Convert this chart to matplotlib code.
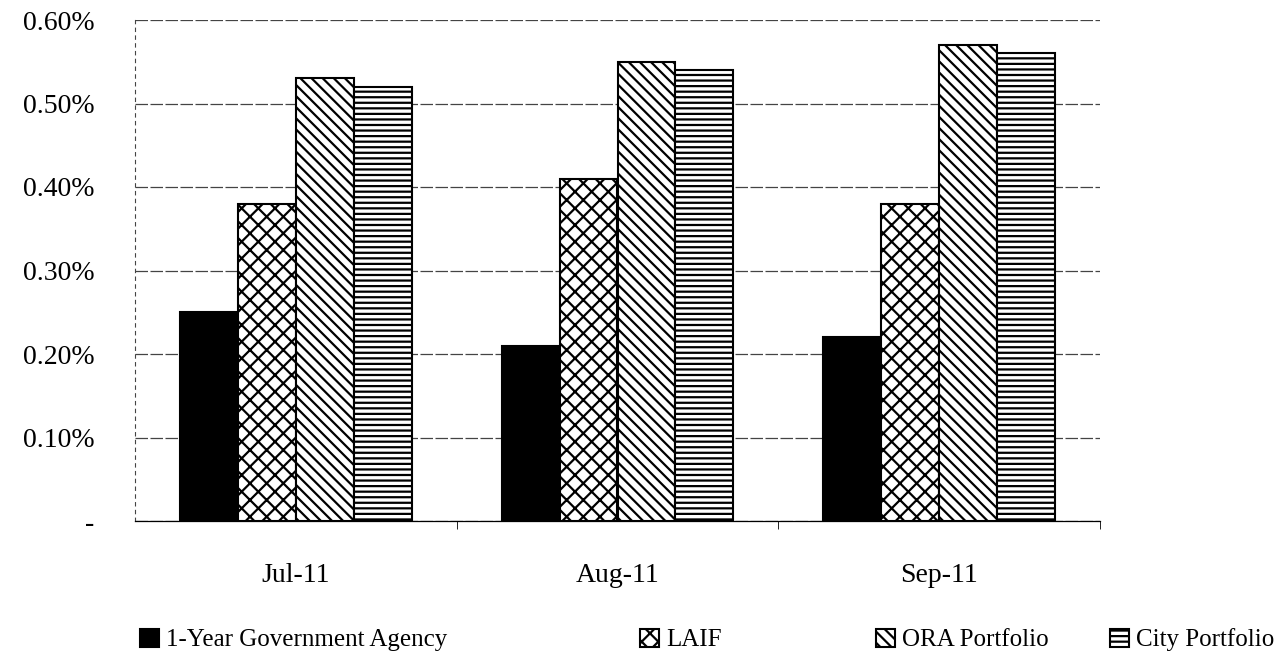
import numpy as np
import matplotlib
matplotlib.use("Agg")
from matplotlib import pyplot as plt
from matplotlib.ticker import FuncFormatter

months = ["Jul-11", "Aug-11", "Sep-11"]
series = ["1-Year Government Agency", "LAIF", "ORA Portfolio", "City Portfolio"]
agency = [0.25, 0.21, 0.22]
laif = [0.38, 0.41, 0.38]
ora = [0.53, 0.55, 0.57]
city = [0.52, 0.54, 0.56]

plt.rcParams['font.family'] = ['Liberation Serif', 'DejaVu Serif']
plt.rcParams['hatch.linewidth'] = 1.6

fig = plt.figure(figsize=(12.82, 6.56), dpi=100)
ax = fig.add_axes([135/1282, 1 - 521/656, 965/1282, 501/656])

x = np.arange(len(months))
w = 0.18
styles = [("black", ""), ("white", "xx"), ("white", "\\\\\\"), ("white", "---")]
data = [agency, laif, ora, city]
bars = []
for i, (vals, (fc, h)) in enumerate(zip(data, styles)):
    b = ax.bar(x + (i - 1.5) * w, vals, width=w, color=fc, edgecolor="black",
               hatch=h, linewidth=1.5, label=series[i], zorder=3)
    bars.append(b)

ax.set_xlim(-0.5, 2.5)
ax.set_ylim(0, 0.6)
ax.set_yticks([0, 0.1, 0.2, 0.3, 0.4, 0.5, 0.6])
ax.yaxis.set_major_formatter(FuncFormatter(lambda v, p: "-" if v == 0 else "%.2f%%" % v))
ax.set_xticks(x)
ax.set_xticklabels(months)
ax.set_xticks([0.5, 1.5, 2.5], minor=True)
ax.tick_params(axis="x", which="major", length=0, labelsize=20, pad=30)
ax.tick_params(axis="x", which="minor", length=6, direction="out")
ax.tick_params(axis="y", length=0, labelsize=20, pad=29)
ax.grid(axis="y", color="#444444", linestyle=(0, (10, 2)), linewidth=0.9, zorder=0)

for s in ["top", "right"]:
    ax.spines[s].set_visible(False)
ax.spines["left"].set_linestyle((0, (3, 4)))
ax.spines["left"].set_color("#444444")
ax.spines["left"].set_linewidth(0.8)
ax.spines["bottom"].set_linewidth(0.9)

# legend entries placed one by one, as in the original
leg_x = [140, 640, 876, 1110]
for b, lab, lx in zip(bars, series, leg_x):
    fig.legend([b], [lab], loc="center left", bbox_to_anchor=(lx/1282, 1 - 640/656),
               frameon=False, fontsize=18, handlelength=0.75, handleheight=0.75,
               handletextpad=0.3, borderpad=0, borderaxespad=0)

fig.savefig("out.png", dpi=100)
